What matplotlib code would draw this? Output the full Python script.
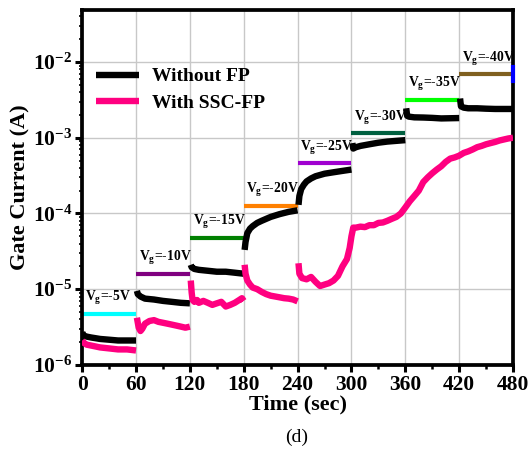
import numpy as np
import matplotlib
matplotlib.use("Agg")
import matplotlib.pyplot as plt
from matplotlib.ticker import FixedLocator, LogLocator, NullFormatter

plt.rcParams['font.family'] = ['Liberation Serif', 'DejaVu Serif']
plt.rcParams['font.weight'] = 'bold'
plt.rcParams['mathtext.fontset'] = 'custom'
plt.rcParams['mathtext.rm'] = 'Liberation Serif:bold'
plt.rcParams['mathtext.it'] = 'Liberation Serif:bold'
plt.rcParams['mathtext.bf'] = 'Liberation Serif:bold'

# ---- data: Without FP (black), one list per voltage step ----
blk_t = [
    [0, 1, 3, 6, 10, 15, 20, 30, 40, 50, 60],
    [61, 62, 65, 70, 80, 90, 100, 110, 120],
    [121, 122, 125, 130, 140, 150, 160, 170, 180],
    [181, 182, 184, 187, 190, 195, 200, 210, 220, 230, 240],
    [241, 242, 244, 247, 250, 255, 260, 270, 280, 290, 300],
    [301, 302, 305, 310, 320, 330, 340, 350, 360],
    [361, 361.5, 362, 364, 370, 380, 390, 400, 410, 420],
    [421, 421.5, 422, 425, 430, 440, 450, 460, 470, 480],
]
blk_v = [
    [2.7e-6, 2.5e-6, 2.4e-6, 2.35e-6, 2.3e-6, 2.25e-6, 2.2e-6, 2.15e-6, 2.1e-6, 2.1e-6, 2.1e-6],
    [9.5e-6, 8.6e-6, 8.0e-6, 7.5e-6, 7.3e-6, 7.0e-6, 6.8e-6, 6.6e-6, 6.5e-6],
    [2.1e-5, 1.95e-5, 1.85e-5, 1.8e-5, 1.75e-5, 1.7e-5, 1.7e-5, 1.65e-5, 1.6e-5],
    [3.3e-5, 4.2e-5, 5.5e-5, 6.3e-5, 6.8e-5, 7.5e-5, 8.0e-5, 9.0e-5, 9.8e-5, 1.05e-4, 1.1e-4],
    [1.3e-4, 1.7e-4, 2.1e-4, 2.4e-4, 2.65e-4, 2.9e-4, 3.1e-4, 3.35e-4, 3.5e-4, 3.65e-4, 3.8e-4],
    [8.5e-4, 7.2e-4, 7.5e-4, 7.8e-4, 8.2e-4, 8.6e-4, 8.9e-4, 9.1e-4, 9.3e-4],
    [2.45e-3, 2.2e-3, 1.95e-3, 1.9e-3, 1.86e-3, 1.85e-3, 1.83e-3, 1.8e-3, 1.81e-3, 1.82e-3],
    [3.3e-3, 2.9e-3, 2.6e-3, 2.5e-3, 2.45e-3, 2.45e-3, 2.42e-3, 2.4e-3, 2.4e-3, 2.4e-3],
]

# ---- data: With SSC-FP (pink) ----
pnk_t = [
    [0, 2, 5, 10, 15, 20, 30, 40, 50, 60],
    [61, 62, 63, 65, 67, 70, 75, 80, 85, 90, 95, 100, 105, 110, 115, 120],
    [121, 122, 123, 125, 128, 130, 135, 140, 145, 150, 155, 160, 165, 170, 175, 178, 180],
    [181, 182, 184, 187, 190, 195, 200, 205, 210, 215, 220, 225, 230, 235, 240],
    [241, 242, 245, 250, 255, 260, 265, 270, 275, 280, 285, 290, 295, 298, 300,
     302, 305, 310, 315, 320, 325, 330, 335, 340, 345, 350, 355, 360, 365, 370,
     375, 380, 385, 390, 395, 400, 405, 410, 415, 420, 425, 430, 435, 440, 445,
     450, 455, 460, 465, 470, 475, 480],
]
pnk_v = [
    [2.1e-6, 1.95e-6, 1.85e-6, 1.8e-6, 1.75e-6, 1.7e-6, 1.65e-6, 1.6e-6, 1.6e-6, 1.55e-6],
    [4.2e-6, 3.6e-6, 3.1e-6, 2.8e-6, 3.0e-6, 3.5e-6, 3.8e-6, 3.9e-6, 3.7e-6, 3.6e-6,
     3.5e-6, 3.4e-6, 3.3e-6, 3.2e-6, 3.1e-6, 3.2e-6],
    [1.3e-5, 9e-6, 7.2e-6, 6.8e-6, 7.2e-6, 6.6e-6, 7.0e-6, 6.6e-6, 6.2e-6, 6.5e-6, 6.8e-6,
     5.9e-6, 6.2e-6, 6.6e-6, 7.2e-6, 7.6e-6, 7.0e-6],
    [2.1e-5, 1.6e-5, 1.3e-5, 1.15e-5, 1.05e-5, 1.0e-5, 9.2e-6, 8.6e-6, 8.2e-6, 8.0e-6,
     7.8e-6, 7.6e-6, 7.5e-6, 7.3e-6, 6.9e-6],
    [2.2e-5, 1.6e-5, 1.4e-5, 1.35e-5, 1.45e-5, 1.25e-5, 1.1e-5, 1.15e-5, 1.2e-5, 1.3e-5,
     1.5e-5, 2.0e-5, 2.5e-5, 3.5e-5, 5.0e-5,
     6.5e-5, 6.5e-5, 6.7e-5, 6.6e-5, 7.0e-5, 7.0e-5, 7.5e-5, 7.6e-5, 8.0e-5, 8.5e-5,
     9.0e-5, 1.0e-4, 1.2e-4, 1.45e-4, 1.7e-4, 2.0e-4, 2.6e-4, 3.0e-4, 3.4e-4, 3.8e-4,
     4.2e-4, 4.8e-4, 5.3e-4, 5.5e-4, 5.8e-4, 6.3e-4, 6.6e-4, 7.0e-4, 7.5e-4, 7.8e-4,
     8.2e-4, 8.5e-4, 8.8e-4, 9.2e-4, 9.5e-4, 9.8e-4, 1.0e-3],
]

# ---- gate voltage step indicators ----
vg_labels = ['-5V', '-10V', '-15V', '-20V', '-25V', '-30V', '-35V', '-40V']
vg_start = [0, 60, 120, 180, 240, 300, 360, 420]
vg_level = [4.7e-6, 1.6e-5, 4.8e-5, 1.26e-4, 4.6e-4, 1.15e-3, 3.2e-3, 6.9e-3]
vg_colors = ['#00ffff', '#800080', '#008000', '#ff8000', '#a000d0', '#006040', '#00ff00', '#806020']

xticks = [0, 60, 120, 180, 240, 300, 360, 420, 480]

fig = plt.figure(figsize=(5.3, 4.66), dpi=100)
ax = fig.add_axes([0.155, 0.217, 0.813, 0.762])

def joined(ts, vs):
    T, V = [], []
    for t, v in zip(ts, vs):
        T += list(t) + [np.nan]
        V += list(v) + [np.nan]
    return np.array(T, float), np.array(V, float)

bt, bv = joined(blk_t, blk_v)
pt, pv = joined(pnk_t, pnk_v)
ax.plot(bt, bv, color='black', lw=4.6, solid_capstyle='butt', label='Without FP', zorder=3)
ax.plot(pt, pv, color='#ff0080', lw=4.6, solid_capstyle='butt', label='With SSC-FP', zorder=3)

for s, lvl, c, lab in zip(vg_start, vg_level, vg_colors, vg_labels):
    ax.plot([s, s + 60], [lvl, lvl], color=c, lw=3, zorder=2, solid_capstyle='butt')
    ax.text(s + 3, lvl * 1.22, r'V$_{\mathregular{g}}$=' + lab, fontsize=9.8,
            fontweight='bold', ha='left', va='bottom', zorder=4)
# right-edge marker of next step
ax.plot([480, 480], [5.6e-3, 8.6e-3], color='#0000ff', lw=3, zorder=4, clip_on=False)

ax.set_yscale('log')
ax.set_xlim(0, 480)
ax.set_ylim(1e-6, 0.049)
ax.xaxis.set_major_locator(FixedLocator(xticks))
ax.xaxis.set_minor_locator(FixedLocator([30, 90, 150, 210, 270, 330, 390, 450]))
ax.yaxis.set_major_locator(LogLocator(base=10, numticks=10))
ax.yaxis.set_minor_locator(LogLocator(base=10, subs=np.arange(2, 10), numticks=10))
ax.yaxis.set_minor_formatter(NullFormatter())

ax.grid(True, which='major', color='#c8c8c8', lw=1, zorder=0)
ax.set_axisbelow(True)
for sp in ax.spines.values():
    sp.set_linewidth(2.7)
ax.tick_params(axis='both', which='major', direction='out', length=5, width=2.2,
               labelsize=15.5, pad=2)
ax.tick_params(axis='x', which='minor', direction='out', length=3, width=1.8)
ax.tick_params(axis='y', which='minor', direction='out', length=2.5, width=1.2)
for lab in ax.get_xticklabels() + ax.get_yticklabels():
    lab.set_fontweight('bold')

ax.set_xlabel('Time (sec)', fontsize=16, fontweight='bold', labelpad=0)
ax.set_ylabel('Gate Current (A)', fontsize=16, fontweight='bold', labelpad=2)
fig.text(0.56, 0.062, '(d)', fontsize=14, fontweight='normal', ha='center', va='center')

leg = ax.legend(loc='upper left', bbox_to_anchor=(0.0, 0.875), frameon=False,
                prop={'family': 'Liberation Serif', 'weight': 'bold', 'size': 14},
                handlelength=2.2, handletextpad=0.7, labelspacing=0.45, borderaxespad=0.3)

fig.savefig('out.png', dpi=100)
